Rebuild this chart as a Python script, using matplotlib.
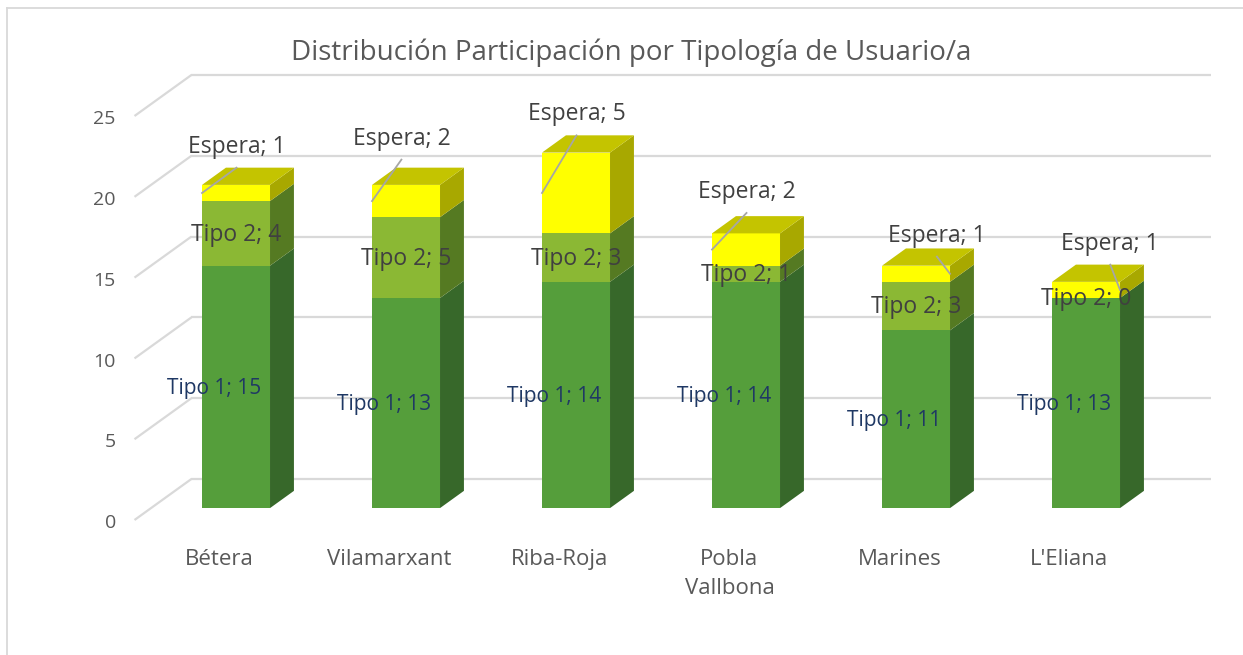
import matplotlib
matplotlib.use("Agg")
import matplotlib.pyplot as plt
from matplotlib.patches import Polygon, Rectangle
import numpy as np

plt.rcParams['font.family'] = ['Open Sans', 'DejaVu Sans']

# data
municipios = ['Bétera', 'Vilamarxant', 'Riba-Roja', 'Pobla\nVallbona', 'Marines', "L'Eliana"]
series = ['Tipo 1', 'Tipo 2', 'Espera']
tipo1 = [15, 13, 14, 14, 11, 13]
tipo2 = [4, 5, 3, 1, 3, 0]
espera = [1, 2, 5, 2, 1, 1]
yticks = [0, 5, 10, 15, 20, 25]
title = 'Distribución Participación por Tipología de Usuario/a'

# colours (front, side, top) per series
front_c = ['#559E3B', '#8BB834', '#FFFF00']
side_c = ['#37682A', '#557A22', '#A8A800']
top_c = ['#6FB24F', '#A6CC4F', '#C4C400']
label_c = ['#1F3864', '#404040', '#404040']
grid_c = '#D9D9D9'
text_c = '#595959'

# oblique projection of the depth axis (full wall depth)
DX, DY = 0.335, 2.54
F0, F1 = 0.29, 0.71   # bar front/back depth fractions
W = 0.4               # bar width

# manual placement of the "Espera" labels (dx, dy from bar top) and leader side
esp_off = [(0.10, 3.1), (0.07, 3.6), (0.10, 3.1), (0.10, 3.3), (0.22, 2.6), (0.24, 3.1)]
esp_side = [-1, -1, -1, -1, 1, 1]

fig = plt.figure(figsize=(12.43, 6.55), dpi=100)
ax = fig.add_axes([0, 0, 1, 1])
ax.set_xlim(-219.5 / 170, (1243 - 219.5) / 170)
ax.set_ylim(-135 / 16.16, 520 / 16.16)
ax.axis('off')

# chart frame
fig.add_artist(plt.Line2D([7 / 1243, 7 / 1243], [0, 1 - 8 / 655], color='#D9D9D9', lw=1.3))
fig.add_artist(plt.Line2D([7 / 1243, 1], [1 - 8 / 655, 1 - 8 / 655], color='#D9D9D9', lw=1.3))

n = len(municipios)
x0, x1 = -0.5, n - 0.5

# gridlines: left wall diagonals + back wall
for t in yticks:
    ax.plot([x0, x0 + DX], [t, t + DY], color=grid_c, lw=1.6, solid_capstyle='butt', zorder=1)
    ax.plot([x0 + DX, x1 + DX], [t + DY, t + DY], color=grid_c, lw=1.6, solid_capstyle='butt', zorder=1)
    ax.text(x0 - 0.11, t - 0.2, str(t), ha='right', va='center', fontsize=14, color=text_c)

for i, name in enumerate(municipios):
    ax.text(i, -1.8, name, ha='center', va='top', fontsize=16, color=text_c, linespacing=1.5)

values = np.array([tipo1, tipo2, espera], dtype=float)
bottoms = np.vstack([np.zeros(n), np.cumsum(values, axis=0)[:-1]])
totals = values.sum(axis=0)

for i in range(n):
    fx = i + F0 * DX
    fy = F0 * DY
    ddx = (F1 - F0) * DX
    ddy = (F1 - F0) * DY
    for s in range(3):
        v = values[s, i]
        if v <= 0:
            continue
        b = bottoms[s, i]
        lft, rgt = fx - W / 2, fx + W / 2
        ax.add_patch(Rectangle((lft, fy + b), W, v, facecolor=front_c[s], edgecolor='none', zorder=3))
        side = [(rgt, fy + b), (rgt + ddx, fy + b + ddy), (rgt + ddx, fy + b + v + ddy), (rgt, fy + b + v)]
        ax.add_patch(Polygon(side, closed=True, facecolor=side_c[s], edgecolor='none', zorder=3))
        if b + v == totals[i]:
            tp = b + v
            top = [(lft, fy + tp), (rgt, fy + tp), (rgt + ddx, fy + tp + ddy), (lft + ddx, fy + tp + ddy)]
            ax.add_patch(Polygon(top, closed=True, facecolor=top_c[s], edgecolor='none', zorder=3))

    # labels
    mid1 = bottoms[0, i] + values[0, i] / 2
    ax.text(i - 0.03, mid1 + 0.65, f'{series[0]}; {tipo1[i]}', ha='center', va='center',
            fontsize=15, color=label_c[0], zorder=5)
    mid2 = bottoms[1, i] + values[1, i] / 2
    ax.text(i + 0.1, mid2 + 0.65, f'{series[1]}; {tipo2[i]}', ha='center', va='center',
            fontsize=16.5, color=label_c[1], zorder=5)
    ox, oy = esp_off[i]
    lx, ly = i + ox, totals[i] + oy
    ax.text(lx, ly, f'{series[2]}; {espera[i]}', ha='center', va='center',
            fontsize=16.5, color=label_c[2], zorder=5)
    mid3 = bottoms[2, i] + values[2, i] / 2
    ex = fx + esp_side[i] * W / 2
    ax.plot([lx, ex], [ly - 1.3, fy + mid3], color='#A6A6A6', lw=1.3, zorder=4)

ax.text(2.42, 28.9, title, ha='center', va='center', fontsize=20, color=text_c)

fig.savefig('out.png', dpi=100)
